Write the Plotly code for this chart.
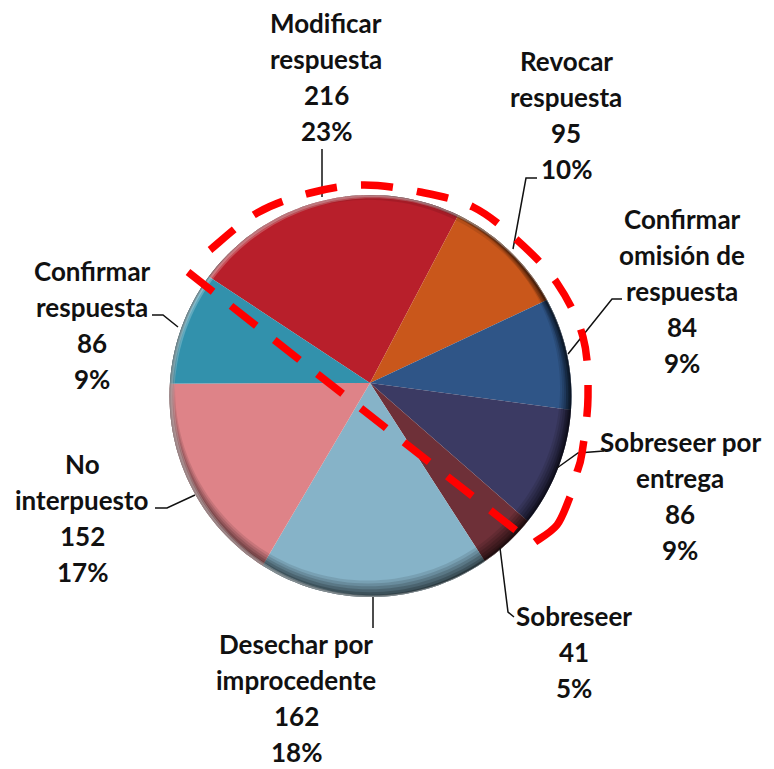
import numpy as np
import plotly.graph_objects as go

categories = ["Modificar respuesta", "Revocar respuesta", "Confirmar omisión de respuesta",
              "Sobreseer por entrega", "Sobreseer", "Desechar por improcedente",
              "No interpuesto", "Confirmar respuesta"]
values = [216, 95, 84, 86, 41, 162, 152, 86]
colors = ["#B81F2B", "#C9571B", "#2F5587", "#3B3A63", "#6E3038", "#86B3C8", "#DE8388", "#3291AC"]
label_lines = [["Modificar", "respuesta", "216", "23%"], ["Revocar", "respuesta", "95", "10%"],
               ["Confirmar", "omisión de", "respuesta", "84", "9%"], ["Sobreseer por", "entrega", "86", "9%"],
               ["Sobreseer", "41", "5%"], ["Desechar por", "improcedente", "162", "18%"],
               ["No", "interpuesto", "152", "17%"], ["Confirmar", "respuesta", "86", "9%"]]
label_px = [(326, 77), (566, 115), (682, 291), (680, 496), (574, 652), (296, 698), (82, 518), (92, 325)]
leaders = [[(322, 149), (322, 197)], [(513, 249), (526, 178), (537, 178)], [(568, 354), (612, 299), (622, 299)],
           [(557, 468), (578, 453), (604, 451)], [(500, 548), (508, 612), (514, 617)], [(373, 597), (373, 628)],
           [(195, 495), (167, 508), (155, 508)], [(178, 327), (163, 315), (152, 315)]]
red_tail = [(535, 542), (557, 525), (570, 497)]
red_arc = [(577, 472), (582, 453), (588, 397), (583, 337), (557, 283), (517, 240),
           (473, 207), (420, 192), (363, 185), (310, 193), (257, 213), (210, 250)]
red_diag = [(188, 272), (518, 532)]

W, H = 774, 769
ax, ay, PR = 370, 383, 216      # wedge apex
cx, cy, R = 370.5, 396, 201     # visible disc
LINE_H = 36

fx = lambda x: x / W
fy = lambda y: 1 - y / H

fig = go.Figure(go.Pie(values=values, labels=categories, sort=False, direction="clockwise", rotation=303.4,
                       marker=dict(colors=colors, line=dict(width=0)), textinfo="none",
                       hoverinfo="label+value+percent", showlegend=False,
                       domain=dict(x=[fx(ax-PR), fx(ax+PR)], y=[fy(ay+PR), fy(ay-PR)])))

def circle(x0, y0, r, n=180):
    t = np.linspace(0, 2*np.pi, n, endpoint=False)
    pts = [f"{fx(x0+r*np.cos(a)):.5f} {fy(y0+r*np.sin(a)):.5f}" for a in t]
    return "M " + " L ".join(pts) + " Z"

def ring(fill, ox, oy, inner_r):
    return dict(type="path", xref="paper", yref="paper", path=circle(cx, cy, R) + " " + circle(ox, oy, inner_r),
                fillcolor=fill, line=dict(width=0))

def smooth(points):
    P = np.array(points, dtype=float)
    path = f"M {fx(P[0][0])} {fy(P[0][1])}"
    for i in range(len(P)-1):
        p0, p1, p2, p3 = P[max(i-1, 0)], P[i], P[i+1], P[min(i+2, len(P)-1)]
        c1 = p1 + (p2-p0)/6
        c2 = p2 - (p3-p1)/6
        path += f" C {fx(c1[0])} {fy(c1[1])} {fx(c2[0])} {fy(c2[1])} {fx(p2[0])} {fy(p2[1])}"
    return path

shapes = []
rect = "M 0 0 L 1 0 L 1 1 L 0 1 Z"
shapes.append(dict(type="path", xref="paper", yref="paper", path=rect + " " + circle(cx, cy, R),
                   fillcolor="white", line=dict(width=0)))
# dark bevel: thick at the bottom and lower right, nothing at upper left
for d, a in [(8.5, .10), (7, .12), (5.5, .14), (4, .16), (2.5, .18), (1.2, .20)]:
    ox, oy = -0.35 * d, -0.937 * d
    shapes.append(ring(f"rgba(0,0,0,{a})", cx + ox, cy + oy, R - d))
# thin dark rim along the top right
for d, a in [(3, .10), (1.5, .12)]:
    shapes.append(ring(f"rgba(0,0,0,{a})", cx - d*0.8, cy + d*0.6, R - d))
# light rim at the upper left
for d, a in [(2.5, .22), (1.5, .25)]:
    shapes.append(ring(f"rgba(255,255,255,{a})", cx + d*0.95, cy + d*0.3, R - d))
for pts in leaders:
    p = "M " + " L ".join(f"{fx(x)} {fy(y)}" for x, y in pts)
    shapes.append(dict(type="path", xref="paper", yref="paper", path=p, line=dict(color="#111111", width=1.5)))

shapes.append(dict(type="path", xref="paper", yref="paper", path=smooth(red_tail),
                   line=dict(color="#FF0000", width=7.5)))
shapes.append(dict(type="path", xref="paper", yref="paper", path=smooth(red_arc),
                   line=dict(color="#FF0000", width=7.5, dash="32px,24.2px")))
shapes.append(dict(type="path", xref="paper", yref="paper", path=smooth(red_diag),
                   line=dict(color="#FF0000", width=7.5, dash="32px,23px")))

annotations = []
for lines, (x, y) in zip(label_lines, label_px):
    top = y - LINE_H * (len(lines) - 1) / 2
    for i, t in enumerate(lines):
        annotations.append(dict(x=fx(x), y=fy(top + i * LINE_H), xref="paper", yref="paper", text=t,
                                showarrow=False, align="center", xanchor="center", yanchor="middle",
                                font=dict(family="Lato", size=26, color="#111111", weight="bold")))

fig.update_layout(width=W, height=H, margin=dict(l=0, r=0, t=0, b=0), paper_bgcolor="white",
                  shapes=shapes, annotations=annotations)
fig.write_html("out.html", config=dict(displayModeBar=False), post_script="document.body.style.margin='0';")
